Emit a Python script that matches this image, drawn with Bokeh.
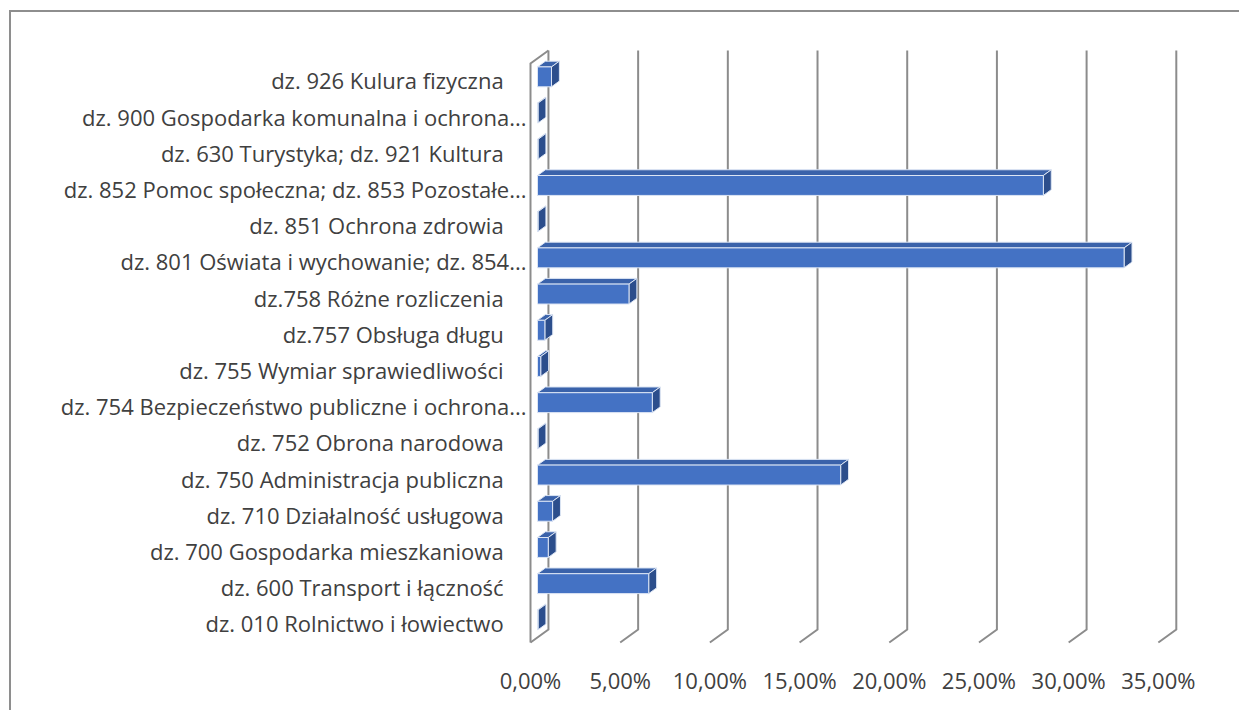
from bokeh.plotting import figure
from bokeh.models import FixedTicker, ColumnDataSource
from bokeh.embed import file_html
from bokeh.resources import INLINE

# ---- data (bottom to top) ----
categories = [
    "dz. 010 Rolnictwo i łowiectwo",
    "dz. 600 Transport i łączność",
    "dz. 700 Gospodarka mieszkaniowa",
    "dz. 710 Działalność usługowa",
    "dz. 750 Administracja publiczna",
    "dz. 752 Obrona narodowa",
    "dz. 754 Bezpieczeństwo publiczne i ochrona...",
    "dz. 755 Wymiar sprawiedliwości",
    "dz.757 Obsługa długu",
    "dz.758 Różne rozliczenia",
    "dz. 801 Oświata i wychowanie; dz. 854...",
    "dz. 851 Ochrona zdrowia",
    "dz. 852 Pomoc społeczna; dz. 853 Pozostałe...",
    "dz. 630 Turystyka; dz. 921 Kultura",
    "dz. 900 Gospodarka komunalna i ochrona...",
    "dz. 926 Kulura fizyczna",
]
values = [0.03, 6.2, 0.6, 0.84, 16.9, 0.03, 6.4, 0.18, 0.41, 5.1, 32.7, 0.03, 28.2, 0.03, 0.03, 0.78]
x_ticks = [0, 5, 10, 15, 20, 25, 30, 35]
x_tick_labels = ["0,00%", "5,00%", "10,00%", "15,00%", "20,00%", "25,00%", "30,00%", "35,00%"]

# ---- 3D geometry (oblique projection, in data units) ----
DX = 1.0      # full depth offset along x (percent units)
DY = 0.36     # full depth offset along y (category units)
FLOOR = -0.525
TOP = 15.47
F0, F1 = 0.39, 0.83   # bar depth (front/back fractions)
HALF = 0.275          # half height of bar front face
YOFF = 0.1

FONT = "Open Sans"
TXT = "#404040"
GRID = "#8c8c8c"
BORDER = "#8e8e8e"

p = figure(width=1239, height=710, x_range=(-0.223, 36.29), y_range=(-0.608, 15.994),
           output_backend="svg", toolbar_location=None,
           min_border_left=526, min_border_right=58, min_border_top=44, min_border_bottom=65)
p.border_fill_color = None
p.background_fill_color = "white"
p.styles = {
    "background": (f"linear-gradient({BORDER},{BORDER}) 9px 10px / 2px 100% no-repeat, "
                   f"linear-gradient({BORDER},{BORDER}) 9px 10px / 100% 2px no-repeat, white"),
}
p.grid.visible = False
p.outline_line_color = None

# back wall gridlines + floor diagonals
gx, gy = [], []
for t in x_ticks:
    gx.append([t + DX, t + DX, t])
    gy.append([TOP + DY, FLOOR + DY, FLOOR])
# left side wall front edge + top edge
gx.append([0, 0, DX])
gy.append([FLOOR, TOP, TOP + DY])
p.multi_line(gx, gy, line_color=GRID, line_width=2, line_join="miter")

# bars
ddx = (F1 - F0) * DX
ddy = (F1 - F0) * DY
x0s, x1s, ybs, yts = [], [], [], []
top_x, top_y, side_x, side_y = [], [], [], []
for i, v in enumerate(values):
    x0 = F0 * DX
    x1 = x0 + v
    yb = i + YOFF - HALF
    yt = i + YOFF + HALF
    x0s.append(x0); x1s.append(x1); ybs.append(yb); yts.append(yt)
    top_x.append([x0, x1, x1 + ddx, x0 + ddx])
    top_y.append([yt, yt, yt + ddy, yt + ddy])
    side_x.append([x1, x1, x1 + ddx, x1 + ddx])
    side_y.append([yb, yt, yt + ddy, yb + ddy])

p.patches(top_x, top_y, fill_color="#3A62AA", line_color="#DCE5F4", line_width=1)
p.patches(side_x, side_y, fill_color="#2C4E8C", line_color="#DCE5F4", line_width=1)
src = ColumnDataSource(dict(left=x0s, right=x1s, bottom=ybs, top=yts))
p.quad(left="left", right="right", bottom="bottom", top="top", source=src,
       fill_color="#4472C4", line_color="#DCE5F4", line_width=1)

# axes
pad = "\u00a0" * 4
p.yaxis.ticker = FixedTicker(ticks=list(range(len(categories))))
p.yaxis.major_label_overrides = {i: (c if c.endswith("...") else c + pad) for i, c in enumerate(categories)}
p.xaxis.ticker = FixedTicker(ticks=x_ticks)
p.xaxis.major_label_overrides = dict(zip(x_ticks, x_tick_labels))
for ax in (p.xaxis, p.yaxis):
    ax.axis_line_color = None
    ax.major_tick_line_color = None
    ax.minor_tick_line_color = None
    ax.major_tick_out = 0
    ax.major_tick_in = 0
    ax.major_label_text_font = FONT
    ax.major_label_text_font_size = "22px"
    ax.major_label_text_color = TXT
p.yaxis.major_label_standoff = 0
p.xaxis.major_label_standoff = 19

open("out.html", "w").write(file_html(p, INLINE))
